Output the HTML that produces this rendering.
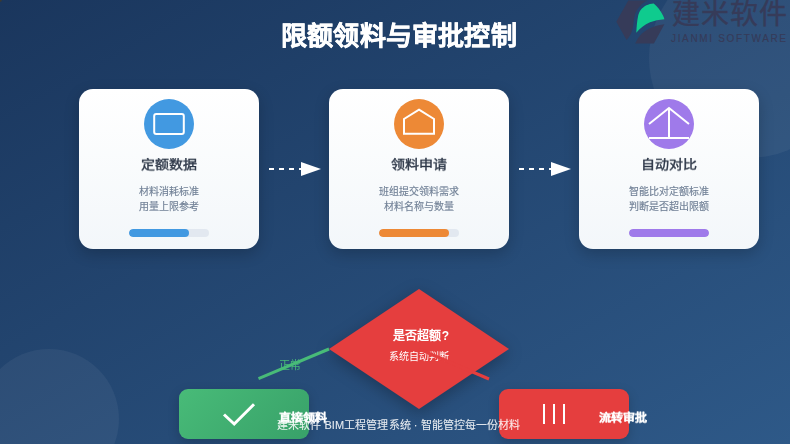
<!DOCTYPE html>
<html lang="zh-CN">
<head>
<meta charset="utf-8">
<style>
*{margin:0;padding:0;box-sizing:border-box;}
html,body{width:790px;height:444px;overflow:hidden;}
body{position:relative;font-family:"Liberation Sans",sans-serif;background:linear-gradient(to bottom right,#1a365d 0%,#2e5988 100%);}
.abs{position:absolute;}
.title,.ct,.cd,.bt,.foot,.tx{will-change:transform;}
.px0{position:absolute;left:0;top:0;width:3px;height:3px;background:radial-gradient(circle at 0 0,#3d3a2e 0,#3d3a2e 0.8px,rgba(61,58,46,0) 2.6px);}
.deco{position:absolute;border-radius:50%;background:rgba(255,255,255,0.05);}
.title{position:absolute;left:0;width:798px;top:17px;-webkit-text-stroke:0.5px #fff;letter-spacing:0.2px;text-align:center;color:#fff;font-size:26px;font-weight:bold;line-height:38px;white-space:nowrap;}
.card{position:absolute;top:89px;width:180px;height:160px;border-radius:14px;background:linear-gradient(180deg,#ffffff 0%,#f3f7fa 100%);box-shadow:0 5px 15px rgba(0,0,0,0.2);}
.icon{position:absolute;left:65px;top:10px;width:50px;height:50px;border-radius:50%;}
.icon svg{position:absolute;left:0;top:0;}
.ct{position:absolute;left:0;width:180px;top:64.8px;text-align:center;font-size:14px;font-weight:normal;-webkit-text-stroke:0.45px #2d3748;transform:scaleY(0.9);transform-origin:50% 60%;color:#2d3748;line-height:20px;white-space:nowrap;}
.cd{position:absolute;left:0;width:180px;top:95.6px;text-align:center;font-size:10px;color:#718096;line-height:14.6px;-webkit-text-stroke:0.15px #718096;white-space:nowrap;}
.bar{position:absolute;left:50px;top:140px;width:80px;height:8px;border-radius:4px;background:#e2e8f0;overflow:hidden;}
.bar i{position:absolute;left:0;top:0;height:8px;border-radius:4px;}
.box{position:absolute;top:389px;width:130px;height:50px;border-radius:9px;box-shadow:0 4px 12px rgba(0,0,0,0.18);}
.bt{position:absolute;top:409.5px;font-size:12px;font-weight:bold;color:#fff;line-height:16px;white-space:nowrap;-webkit-text-stroke:0.25px #fff;transform:scaleY(0.9);transform-origin:50% 60%;}
.foot{position:absolute;left:277px;top:417.3px;letter-spacing:0.08px;font-size:11px;color:rgba(255,255,255,0.88);-webkit-text-stroke:0.15px rgba(255,255,255,0.5);line-height:16px;white-space:nowrap;}
</style>
</head>
<body>
<div class="deco" style="left:649px;top:-42px;width:200px;height:200px;"></div>
<div class="deco" style="left:-21px;top:349px;width:140px;height:140px;"></div>

<!-- logo -->
<svg class="abs" style="left:0;top:0" width="790" height="60" viewBox="0 0 790 60">
  <path d="M628.3 0.6 L647.6 0.6 C643.5 2.5 640 5.5 637.6 9 C635.2 12.5 634.2 16.5 633.8 20.5 C633.4 25 632.8 29.5 631 33.5 C629.8 36 628.3 38.2 626.6 40 L616.3 21.7 Z" fill="#363b59"/>
  <path d="M636.3 32.8 C636.6 27 637 21 638.2 15.6 C639.3 11 641.5 8 646.4 5.2 C648.5 4.2 651 3.6 653.7 3.4 C657.5 6.5 660.5 10.5 663 15.6 C663.6 16.8 664 18 664.4 19.2 C659 19.6 654.5 20.6 650 22.2 C644.5 24.6 640 28 636.3 32.8 Z" fill="#0fcb8e"/>
  <path d="M635.2 43.4 C637 39.5 639 36.5 642 33.5 C645.5 30.5 649 28.5 653 27 C656.5 25.8 660.5 24.8 664.4 24.3 L653.9 43.4 Z" fill="#363b59"/>
  <text x="672" y="23.5" font-family="Liberation Sans, sans-serif" font-size="28" fill="#363b59" stroke="#363b59" stroke-width="0.4" textLength="115">建米软件</text>
  <text x="671" y="41.5" font-family="Liberation Sans, sans-serif" font-size="10" fill="#363b59" stroke="#363b59" stroke-width="0.15" textLength="115">JIANMI SOFTWARE</text>
</svg>

<div class="title">限额领料与审批控制</div>

<!-- card 1 -->
<div class="card" style="left:79px;">
  <div class="icon" style="background:#4299e1;">
    <svg width="50" height="50" viewBox="0 0 50 50"><rect x="10.2" y="19.9" width="29.6" height="20.2" rx="2" transform="translate(0,-5)" fill="none" stroke="#fff" stroke-width="2"/></svg>
  </div>
  <div class="ct">定额数据</div>
  <div class="cd">材料消耗标准<br>用量上限参考</div>
  <div class="bar"><i style="width:60px;background:#4299e1;"></i></div>
</div>

<!-- card 2 -->
<div class="card" style="left:329px;">
  <div class="icon" style="background:#ed8936;">
    <svg width="50" height="50" viewBox="0 0 50 50"><path d="M25 15.6 L40 25 L40 39.8 L10 39.8 L10 25 Z" transform="translate(0,-5)" fill="none" stroke="#fff" stroke-width="2"/></svg>
  </div>
  <div class="ct">领料申请</div>
  <div class="cd">班组提交领料需求<br>材料名称与数量</div>
  <div class="bar"><i style="width:70px;background:#ed8936;"></i></div>
</div>

<!-- card 3 -->
<div class="card" style="left:579px;">
  <div class="icon" style="background:#9f7aea;">
    <svg width="50" height="50" viewBox="0 0 50 50"><path d="M5 30 L25 14 L45 30 M25 14 L25 44 M5 44 L45 44" transform="translate(0,-5)" fill="none" stroke="#fff" stroke-width="2"/></svg>
  </div>
  <div class="ct">自动对比</div>
  <div class="cd">智能比对定额标准<br>判断是否超出限额</div>
  <div class="bar"><i style="width:80px;background:#9f7aea;"></i></div>
</div>

<!-- arrows -->
<svg class="abs" style="left:0;top:150px" width="790" height="40" viewBox="0 150 790 40">
  <line x1="269" y1="169" x2="305" y2="169" stroke="#fff" stroke-width="2" stroke-dasharray="5 5"/>
  <path d="M301 162 L321 169 L301 176 Z" fill="#fff"/>
  <line x1="519" y1="169" x2="555" y2="169" stroke="#fff" stroke-width="2" stroke-dasharray="5 5"/>
  <path d="M551 162 L571 169 L551 176 Z" fill="#fff"/>
</svg>

<!-- bottom boxes -->
<div class="box" style="left:179px;background:linear-gradient(135deg,#48bb78,#38a169);"></div>
<div class="box" style="left:499px;background:#e53e3e;"></div>
<svg class="abs" style="left:0;top:380px" width="790" height="64" viewBox="0 380 790 64">
  <path d="M224 414.5 L234.2 424 L254 404.3" fill="none" stroke="#fff" stroke-width="3"/>
  <line x1="544" y1="404" x2="544" y2="424" stroke="#fff" stroke-width="2"/>
  <line x1="554" y1="404" x2="554" y2="424" stroke="#fff" stroke-width="2"/>
  <line x1="564" y1="404" x2="564" y2="424" stroke="#fff" stroke-width="2"/>
</svg>
<div class="bt" style="left:279px;">直接领料</div>
<div class="bt" style="left:599px;">流转审批</div>

<!-- diamond -->
<div class="abs" style="left:329px;top:289px;width:180px;height:120px;filter:drop-shadow(0 4px 8px rgba(0,0,0,0.28));"><div style="width:180px;height:120px;background:#e53e3e;clip-path:polygon(50% 0,100% 50%,50% 100%,0 50%);"></div></div>
<div class="abs tx" style="left:330.5px;top:328px;width:180px;text-align:center;color:#fff;font-size:12px;letter-spacing:0.3px;font-weight:bold;line-height:16px;">是否超额?</div>
<div class="abs tx" style="left:329px;top:350px;width:180px;text-align:center;color:#fff;font-size:10px;line-height:14px;">系统自动判断</div>

<svg class="abs" style="left:0;top:330px" width="790" height="60" viewBox="0 330 790 60">
  <line x1="329" y1="349" x2="258.5" y2="378.6" stroke="#48bb78" stroke-width="3"/>
  <line x1="419" y1="349" x2="489" y2="379" stroke="#e53e3e" stroke-width="3"/>
</svg>
<div class="abs tx" style="left:279px;top:356.5px;font-size:11px;color:#48bb78;line-height:16px;letter-spacing:-0.3px;">正常</div>

<div class="px0"></div>
<div class="foot">建米软件 BIM工程管理系统 · 智能管控每一份材料</div>
</body>
</html>
